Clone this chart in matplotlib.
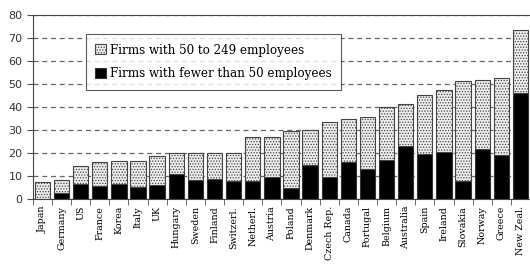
import numpy as np
import matplotlib
matplotlib.use('Agg')
import matplotlib.pyplot as plt

# values (percent)
countries = ['Japan', 'Germany', 'US', 'France', 'Korea', 'Italy', 'UK', 'Hungary',
             'Sweden', 'Finland', 'Switzerl.', 'Netherl.', 'Austria', 'Poland',
             'Denmark', 'Czech Rep.', 'Canada', 'Portugal', 'Belgium', 'Australia',
             'Spain', 'Ireland', 'Slovakia', 'Norway', 'Greece', 'New Zeal.']
small_firms = [0.0, 2.5, 6.4, 5.8, 6.4, 5.1, 6.1, 10.9, 8.3, 8.7, 7.8, 7.8, 9.4, 4.6,
               15.0, 9.4, 16.2, 12.9, 16.8, 23.0, 19.6, 20.3, 7.8, 21.7, 19.1, 46.0]
total = [7.5, 8.2, 14.5, 16.2, 16.7, 16.7, 18.7, 19.9, 20.0, 20.0, 20.0, 27.1, 27.1,
         29.6, 30.0, 33.3, 34.9, 35.5, 39.9, 41.3, 45.2, 47.4, 51.3, 51.7, 52.5, 73.5]
medium_firms = [t - s for t, s in zip(total, small_firms)]

plt.rcParams['hatch.color'] = '#9a9a9a'
plt.rcParams['hatch.linewidth'] = 0.6

fig = plt.figure(figsize=(5.3, 2.65), dpi=100)
ax = fig.add_axes([0.062, 0.249, 0.938, 0.694])

x = np.arange(len(countries))
ax.bar(x, small_firms, width=0.8, color='black', edgecolor='#333333', linewidth=0.8,
       label='Firms with fewer than 50 employees', zorder=2)
ax.bar(x, medium_firms, width=0.8, bottom=small_firms, color='#eeeeee', hatch='......',
       edgecolor='#444444', linewidth=0.8, label='Firms with 50 to 249 employees', zorder=2)

ax.set_xlim(-0.5, len(countries) - 0.5)
ax.set_ylim(0, 80)
ax.set_yticks(range(0, 81, 10))
ax.yaxis.grid(True, linestyle=(0, (4, 3)), color='#666666', linewidth=0.9, zorder=0)
ax.set_axisbelow(True)

ax.set_xticks(x)
ax.set_xticklabels(countries, rotation=90, fontsize=6.8, family='DejaVu Serif', va='top')
ax.set_xticks(np.arange(-0.5, len(countries), 1), minor=True)
ax.tick_params(axis='x', which='major', length=0, pad=5)
ax.tick_params(axis='x', which='minor', length=4, color='#555555')
ax.tick_params(axis='y', length=4, color='#555555', labelsize=8, labelcolor='#333333')

ax.spines['right'].set_visible(False)
for side in ['left', 'top', 'bottom']:
    ax.spines[side].set_color('#444444')

handles, labels = ax.get_legend_handles_labels()
leg = ax.legend(handles[::-1], labels[::-1], loc='upper left', bbox_to_anchor=(0.0946, 0.93),
                prop={'family': 'DejaVu Serif', 'size': 8.6}, frameon=True, fancybox=False,
                edgecolor='#333333', handlelength=0.9, handleheight=0.9, handletextpad=0.3,
                labelspacing=0.9, borderpad=0.8)
leg.get_frame().set_linewidth(0.8)

fig.savefig('out.png', dpi=100)
